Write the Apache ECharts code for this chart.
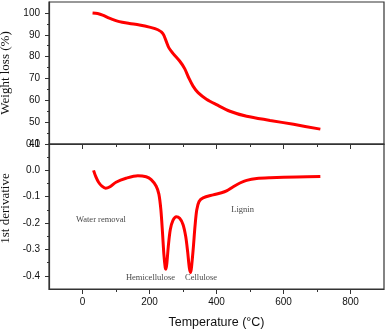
<!DOCTYPE html>
<html>
<head>
<meta charset="utf-8">
<script src="https://cdn.jsdelivr.net/npm/echarts@6/dist/echarts.min.js"></script>
<style>html,body{margin:0;padding:0;background:#fff}#c{width:387px;height:331px}</style>
</head>
<body>
<div id="c"></div>
<script>
// Temperature (°C) vs weight (%) — TGA curve
var tgaTemp = [30,45,60,80,110,140,170,200,225,240,250,258,270,290,305,318,330,345,370,400,440,490,560,630,710];
var tgaWeight = [100,99.7,99,97.6,96,95.2,94.5,93.5,92.3,90.5,87,84,81.5,78,74.5,70,66.5,63.5,60.5,58,55,52.7,50.8,49,46.8];
// Temperature (°C) vs 1st derivative — DTG curve
var dtgTemp = [33,40,48,58,69,82,100,130,165,190,205,220,228,234,239,243,247,249,252,256,262,270,280,290,300,308,314,319,323,326,331,336,341,348,360,390,415,430,450,470,490,520,560,640,710];
var dtgValue = [0,-0.025,-0.045,-0.060,-0.068,-0.062,-0.045,-0.030,-0.020,-0.024,-0.035,-0.060,-0.090,-0.150,-0.240,-0.320,-0.370,-0.375,-0.350,-0.290,-0.225,-0.190,-0.176,-0.182,-0.205,-0.250,-0.310,-0.370,-0.387,-0.360,-0.290,-0.210,-0.150,-0.118,-0.104,-0.093,-0.085,-0.078,-0.062,-0.048,-0.038,-0.031,-0.028,-0.025,-0.023];
// Annotations (label text with their data positions)
var annoNames = ['Water removal','Hemicellulose','Cellulose','Lignin'];
var annoTemp = [55,203,354,478];
var annoValue = [-0.186,-0.406,-0.406,-0.150];
// Tick values
var xMajor = [0,200,400,600,800];
var xMinor = [100,300,500,700];
var wMajor = [40,50,60,70,80,90,100];
var wMinor = [45,55,65,75,85,95];
var dMajor = [-0.4,-0.3,-0.2,-0.1,0,0.1];
var dMinor = [-0.35,-0.25,-0.15,-0.05,0.05];

var lineC = '#333';
var sans = 'Liberation Sans';
var serif = 'Liberation Serif';

function xAx(grid, showLabel, name){
  return {
    type:'value', gridIndex:grid, min:-100, max:900, position:'bottom', offset:0,
    axisLine:{show:true, onZero:false, lineStyle:{color:lineC, width:1.2}},
    axisTick:{show:true, inside:false, length:5, customValues:xMajor, lineStyle:{color:lineC, width:1}},
    axisLabel:{show:showLabel, customValues:xMajor, color:'#111', fontFamily:sans, fontSize:10, margin:8},
    splitLine:{show:false},
    name: name||'', nameLocation:'middle', nameGap:27,
    nameTextStyle:{fontFamily:sans, fontSize:12.5, color:'#111'}
  };
}
function xAxMinor(grid){
  return {
    type:'value', gridIndex:grid, min:-100, max:900, position:'bottom', offset:0,
    axisLine:{show:false, onZero:false},
    axisTick:{show:true, inside:false, length:3, customValues:xMinor, lineStyle:{color:lineC, width:1}},
    axisLabel:{show:false}, splitLine:{show:false}
  };
}
function yAx(grid, min, max, major, name, pad){
  return {
    type:'value', gridIndex:grid, min:min, max:max, position:'left', offset:0,
    axisLine:{show:true, onZero:false, lineStyle:{color:lineC, width:1.2}},
    axisTick:{show:true, inside:false, length:4, customValues:major, lineStyle:{color:lineC, width:1}},
    axisLabel:{show:true, customValues:major, color:'#111', fontFamily:sans, fontSize:10, margin:9,
      formatter:function(v){ return (Math.abs(v)<1e-9?0:v).toFixed(grid===0?0:1); }},
    splitLine:{show:false},
    name:name, nameLocation:'middle', nameGap:22,
    nameTextStyle:{fontFamily:serif, fontSize:13, color:'#111', padding:pad}
  };
}
function yAxMinor(grid, min, max, minor){
  return {
    type:'value', gridIndex:grid, min:min, max:max, position:'left', offset:0,
    axisLine:{show:false, onZero:false},
    axisTick:{show:true, inside:false, length:2, customValues:minor, lineStyle:{color:lineC, width:1}},
    axisLabel:{show:false}, splitLine:{show:false}
  };
}

function pairs(a,b){ return a.map(function(v,i){ return [v,b[i]]; }); }

var chart = echarts.init(document.getElementById('c'), null, {renderer:'canvas'});
chart.setOption({
  animation:false,
  backgroundColor:'#fff',
  grid:[
    {left:49, right:3, top:2, height:142, show:true, borderColor:lineC, borderWidth:1.2, containLabel:false, outerBoundsMode:'none'},
    {left:49, right:3, top:144, bottom:42, show:true, borderColor:lineC, borderWidth:1.2, containLabel:false, outerBoundsMode:'none'}
  ],
  xAxis:[
    xAx(0,false), xAxMinor(0),
    xAx(1,true,'Temperature (°C)'), xAxMinor(1)
  ],
  yAxis:[
    yAx(0,40,105,wMajor,'Weight loss (%)',[0,0,0,0]), yAxMinor(0,40,105,wMinor),
    yAx(1,-0.45,0.1,dMajor,'1st derivative',[0,0,0,16]), yAxMinor(1,-0.45,0.1,dMinor)
  ],
  series:[
    {type:'line', xAxisIndex:0, yAxisIndex:0, data:pairs(tgaTemp,tgaWeight), showSymbol:false, smooth:0.3,
     lineStyle:{color:'#ff0000', width:3}},
    {type:'line', xAxisIndex:2, yAxisIndex:2, data:pairs(dtgTemp,dtgValue), showSymbol:false, smooth:0.3,
     lineStyle:{color:'#ff0000', width:3}},
    {type:'scatter', xAxisIndex:2, yAxisIndex:2, symbolSize:1, itemStyle:{color:'transparent'},
     data:annoTemp.map(function(t,i){ return [t, annoValue[i], annoNames[i]]; }),
     label:{show:true, position:'inside', formatter:function(p){ return p.data[2]; },
       fontFamily:serif, fontSize:8.5, color:'#111'}}
  ]
});
</script>
</body>
</html>
